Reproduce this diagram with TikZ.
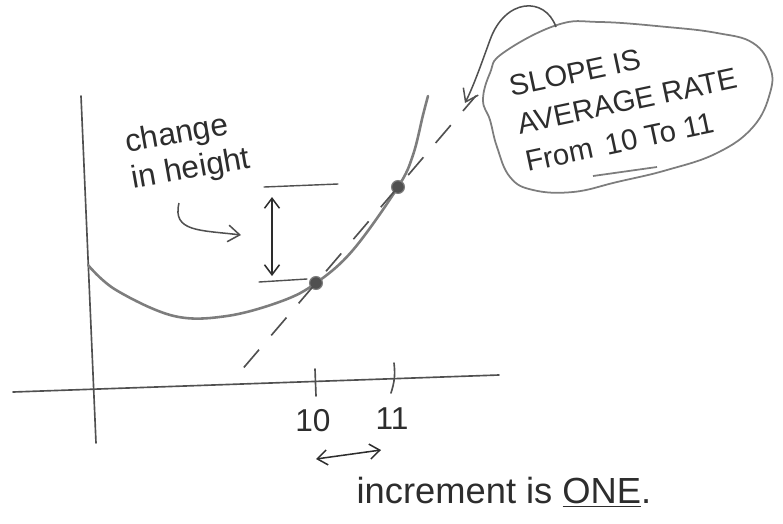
\documentclass[tikz,border=0pt]{standalone}
\usepackage{fontspec}
\setmainfont{Liberation Sans}
\usetikzlibrary{arrows.meta,positioning,calc}
\definecolor{pencilCol}{RGB}{80,80,80}
\definecolor{leadCol}{RGB}{125,125,125}
\definecolor{inkCol}{RGB}{45,45,45}
\tikzset{
  axis/.style={draw=pencilCol, line width=1.4pt, line cap=round},
  graph/.style={draw=leadCol, line width=2.2pt, line cap=round},
  secant/.style={draw=pencilCol, line width=1.4pt, dash pattern=on 20pt off 16pt},
  guide/.style={draw=pencilCol, line width=1.2pt, line cap=round},
  blob/.style={draw=leadCol, line width=1.5pt},
  pointer/.style={-{Straight Barb[length=3.5mm,width=5mm]}, draw=pencilCol, line width=1.3pt},
  twoway/.style={{Straight Barb[length=3mm,width=4.5mm]}-{Straight Barb[length=3mm,width=4.5mm]},
                 draw=inkCol, line width=1.3pt},
  dot/.style={circle, fill=pencilCol, draw=leadCol, line width=1pt, inner sep=0pt, minimum size=11pt},
  hand/.style={text=inkCol, inner sep=1pt},
  note/.style={hand, rotate=10, align=left, font=\fontsize{27}{31}\selectfont},
  callout/.style={hand, rotate=12, align=left, font=\fontsize{25}{33}\selectfont},
  num/.style={hand, font=\fontsize{27}{29}\selectfont},
}

\begin{document}
\begin{tikzpicture}[x=0.03cm, y=-0.03cm]
  \useasboundingbox (0,0) rectangle (783,523);
  % axes
  \coordinate (yTop) at (81,96);
  \coordinate (yBot) at (96,443);
  \coordinate (xLeft) at (13,392);
  \coordinate (xRight) at (499,375);
  \draw[axis] (yTop) -- (yBot);
  \draw[axis] (xLeft) -- (xRight);
  % ticks and labels
  \coordinate (t10a) at (315,369);  \coordinate (t10b) at (316,396);
  \coordinate (t11a) at (394,363);  \coordinate (t11b) at (391,393);
  \draw[axis] (t10a) -- (t10b);
  \draw[axis] (t11a) to[bend left=12] (t11b);
  \node[num] (lab10) at (313,421) {10};
  \node[num] (lab11) at (392,419) {11};
  % the function
  \coordinate (A) at (316,283);
  \coordinate (B) at (398,187);
  \draw[graph] plot[smooth, tension=0.6] coordinates {(88,265) (116,290) (174,316) (227,316)
    (282,301) (A) (353,250) (B) (413,155) (423,115) (428,96)};
  \node[dot] (dotA) at (A) {};
  \node[dot] (dotB) at (B) {};
  % secant through the two points
  \draw[secant] ($(A)!-0.88!(B)$) -- ($(A)!1.95!(B)$);
  % change in height
  \draw[guide] (264,187) -- (338,184);
  \draw[guide] (259,282) -- (307,279);
  \coordinate (riseTop) at (272,197);
  \coordinate (riseBot) at (272,276);
  \draw[twoway] (riseBot) -- (riseTop);
  \node[note] (chg) at (188,152) {change\\in height};
  \coordinate (hgtTail) at (179,203);
  \coordinate (hgtTip) at (241,235);
  \draw[pointer] (hgtTail) .. controls (172,232) and (200,230) .. (hgtTip);
  % callout bubble
  \draw[blob] plot[smooth cycle, tension=0.7] coordinates {(503,53) (557,25) (600,22) (667,27)
    (717,33) (753,43) (770,67) (770,93) (753,127) (717,153) (667,170) (617,182) (573,192)
    (533,190) (510,177) (497,147) (490,120) (483,100) (490,73)};
  \draw[blob] (593,176) -- (657,167);
  \node[callout] (slope) at (627,101) {SLOPE IS\\AVERAGE RATE\\From\, 10 To 11};
  \coordinate (bubTail) at (556,27);
  \coordinate (bubTip) at (465,103);
  \draw[pointer] (bubTail) .. controls (545,-4) and (505,-2) .. (490,40) .. controls (482,62) and (474,85) .. (bubTip);
  % increment
  \coordinate (incL) at (316,459);
  \coordinate (incR) at (381,450);
  \draw[twoway] (incL) -- (incR);
  \node[hand, font=\fontsize{31}{33}\selectfont] (inc) at (504,492) {increment is \underline{ONE}.};
\end{tikzpicture}
\end{document}
